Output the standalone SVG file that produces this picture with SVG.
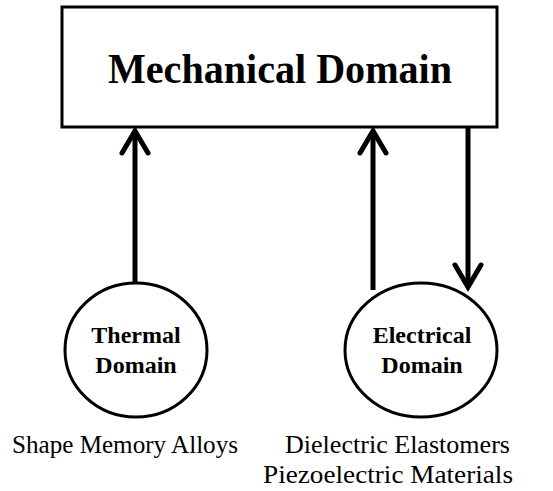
<svg xmlns="http://www.w3.org/2000/svg" width="553" height="491" viewBox="0 0 553 491">
<style>
.box{fill:#fff;stroke:#000;stroke-width:3}
.node{fill:#fff;stroke:#000;stroke-width:3}
.conn{fill:none;stroke:#000;stroke-width:5}
.head{fill:none;stroke:#000;stroke-width:5;stroke-linecap:round;stroke-linejoin:miter}
.title{font-family:"Liberation Serif","Times New Roman",serif;font-weight:bold;font-size:42px;text-anchor:middle}
.label{font-family:"Liberation Serif","Times New Roman",serif;font-weight:bold;font-size:24px;text-anchor:middle}
.note{font-family:"Liberation Serif","Times New Roman",serif;font-size:25px}
</style>
<rect width="553" height="491" fill="#fff"/>
<g id="mechanical">
<rect class="box" x="62" y="7" width="435" height="120"/>
<text class="title" x="280" y="83" textLength="344" lengthAdjust="spacingAndGlyphs">Mechanical Domain</text>
</g>
<g id="thermal">
<ellipse class="node" cx="136" cy="350" rx="71" ry="67"/>
<text class="label" x="136" y="343">Thermal</text>
<text class="label" x="136" y="373">Domain</text>
</g>
<g id="electrical">
<ellipse class="node" cx="421" cy="350" rx="76" ry="67"/>
<text class="label" x="422" y="343">Electrical</text>
<text class="label" x="422" y="373">Domain</text>
</g>
<g id="connectors">
<line class="conn" x1="135" y1="282" x2="135" y2="132"/>
<polyline class="head" points="122,153 135,131 148,153"/>
<line class="conn" x1="373" y1="290" x2="373" y2="132"/>
<polyline class="head" points="360,153 373,131 386,153"/>
<line class="conn" x1="468" y1="127" x2="468" y2="284"/>
<polyline class="head" points="455,265 468,287 481,265"/>
</g>
<g id="notes">
<text class="note" x="12" y="453" textLength="226" lengthAdjust="spacingAndGlyphs">Shape Memory Alloys</text>
<text class="note" x="285" y="453" textLength="225" lengthAdjust="spacingAndGlyphs">Dielectric Elastomers</text>
<text class="note" x="263" y="483" textLength="250" lengthAdjust="spacingAndGlyphs">Piezoelectric Materials</text>
</g>
</svg>
